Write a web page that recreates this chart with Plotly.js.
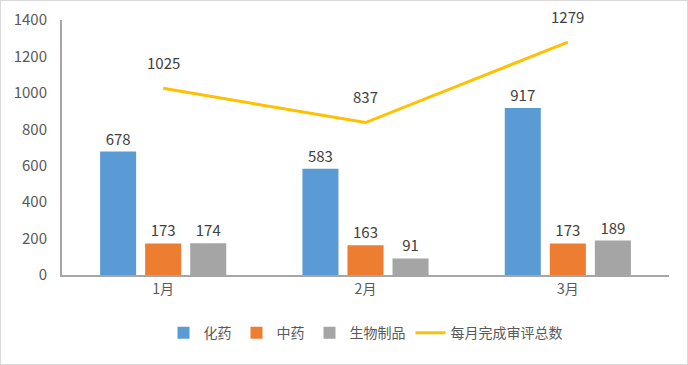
<!DOCTYPE html>
<html><head><meta charset="utf-8">
<script src="https://cdn.plot.ly/plotly-3.0.1.min.js"></script>
<style>html,body{margin:0;padding:0;background:#fff}#c{width:688px;height:365px;box-sizing:border-box;border:1px solid #d9d9d9}</style>
</head><body><div id="c"></div>
<script>
const months = ['1月','2月','3月'];
const chemical = [678, 583, 917];
const tcm = [173, 163, 173];
const bio = [174, 91, 189];
const total = [1025, 837, 1279];
const yTicks = [0,200,400,600,800,1000,1200,1400];

const font = {family: '"Noto Sans CJK SC", "Noto Sans", sans-serif', color: '#595959', size: 14};
const labelFont = {family: font.family, color: '#404040', size: 15};
const barTrace = (name, y, color) => ({
  type: 'bar', name, x: months, y, marker: {color},
  text: y.map(String), textposition: 'outside', cliponaxis: false,
  textfont: labelFont, hoverinfo: 'none'
});
const traces = [
  barTrace('化药', chemical, '#5B9BD5'),
  barTrace('中药', tcm, '#ED7D31'),
  barTrace('生物制品', bio, '#A5A5A5'),
  {type: 'scatter', mode: 'lines', name: '每月完成审评总数', x: months, y: total,
   line: {color: '#FFC000', width: 3}, cliponaxis: false, hoverinfo: 'none'}
];
const annotations = months.map((m, i) => ({
  x: m, y: total[i], xref: 'x', yref: 'y', text: String(total[i]),
  showarrow: false, yshift: 26, font: labelFont
}));
const layout = {
  width: 686, height: 363,
  margin: {l: 61, r: 18, t: 19, b: 89},
  paper_bgcolor: '#fff', plot_bgcolor: '#fff',
  font,
  barmode: 'group', bargap: 0.332, bargroupgap: 0.2,
  showlegend: true,
  annotations,
  legend: {orientation: 'h', x: 0.5, xanchor: 'center', y: -0.165, yanchor: 'top', font: {family: font.family, color: '#595959', size: 14}, traceorder: 'normal', itemwidth: 30},
  xaxis: {showgrid: false, showline: true, linecolor: '#a6a6a6', linewidth: 2, ticks: '', tickfont: {size: 14, color: '#595959'}},
  yaxis: {range: [0, 1400], tickvals: yTicks, showgrid: false, zeroline: false, showline: true, linecolor: '#a6a6a6', linewidth: 2, ticks: '', ticklabelstandoff: 10, tickfont: {size: 15, color: '#595959'}}
};
Plotly.newPlot('c', traces, layout, {displayModeBar: false, staticPlot: true});
</script></body></html>
